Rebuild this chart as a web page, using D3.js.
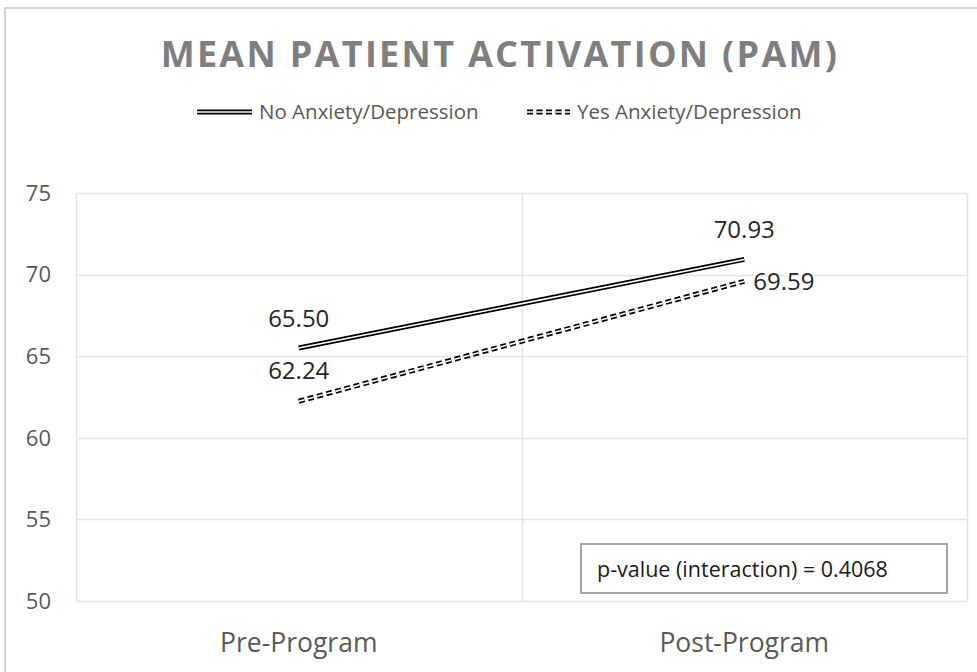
<!DOCTYPE html>
<meta charset="utf-8">
<script src="https://d3js.org/d3.v7.min.js"></script>
<style>
  body { margin: 0; background: #fff; }
  text { font-family: "Open Sans", sans-serif; }
</style>
<body>
<div id="chart"></div>
<script>

    var categories = ["Pre-Program", "Post-Program"];
    var seriesNames = ["No Anxiety/Depression", "Yes Anxiety/Depression"];
    var noAnxiety = [65.50, 70.93];
    var yesAnxiety = [62.24, 69.59];
    var yTicks = [50, 55, 60, 65, 70, 75];
    var pValueText = "p-value (interaction) = 0.4068";

    var W = 977, H = 672;
    var margin = {top: 193, right: 10, bottom: 71, left: 76};

    var svg = d3.select("#chart")
      .append("svg")
        .attr("width", W)
        .attr("height", H);

    // outer chart frame
    svg.append("rect")
        .attr("x", 5).attr("y", 8)
        .attr("width", W + 10).attr("height", H + 10)
        .attr("fill", "none")
        .attr("stroke", "#d4d4d4")
        .attr("stroke-width", 2);

    var x = d3.scaleBand()
        .domain(categories)
        .range([margin.left, W - margin.right])
        .padding(0);

    var y = d3.scaleLinear()
        .domain([50, 75])
        .range([H - margin.bottom, margin.top]);

    var cx = function(c) { return x(c) + x.bandwidth() / 2; };

    // horizontal gridlines
    svg.append("g")
      .selectAll("line")
      .data(yTicks)
      .enter()
      .append("line")
        .attr("x1", margin.left).attr("x2", x.range()[1])
        .attr("y1", function(d) { return Math.round(y(d)) + 0.5; })
        .attr("y2", function(d) { return Math.round(y(d)) + 0.5; })
        .attr("stroke", "#e3e3e3")
        .attr("stroke-width", 1.5);

    // vertical category gridlines
    var vx = categories.map(function(c) { return x(c); }).concat([x.range()[1]]);
    svg.append("g")
      .selectAll("line")
      .data(vx)
      .enter()
      .append("line")
        .attr("x1", function(d) { return Math.round(d) + 0.5; })
        .attr("x2", function(d) { return Math.round(d) + 0.5; })
        .attr("y1", y(75)).attr("y2", y(50))
        .attr("stroke", "#e3e3e3")
        .attr("stroke-width", 1.5);

    // y axis labels
    svg.append("g")
      .selectAll("text")
      .data(yTicks)
      .enter()
      .append("text")
        .attr("x", 51)
        .attr("y", function(d) { return y(d); })
        .attr("dy", "0.35em")
        .attr("text-anchor", "end")
        .attr("font-size", "22px")
        .attr("fill", "#595959")
        .text(function(d) { return d; });

    // x axis labels
    svg.append("g")
      .selectAll("text")
      .data(categories)
      .enter()
      .append("text")
        .attr("x", cx)
        .attr("y", 652)
        .attr("text-anchor", "middle")
        .attr("font-size", "26.5px")
        .attr("fill", "#595959")
        .text(function(d) { return d; });

    // title
    svg.append("text")
        .attr("x", 500)
        .attr("y", 67)
        .attr("text-anchor", "middle")
        .attr("font-size", "36px")
        .attr("font-weight", "bold")
        .attr("letter-spacing", "2.3px")
        .attr("fill", "#7f7f7f")
        .text("MEAN PATIENT ACTIVATION (PAM)");

    // double line helper: black wide stroke with a white core
    function doubleLine(g, pts, dash) {
      var line = d3.line();
      g.append("path")
          .attr("d", line(pts))
          .attr("fill", "none")
          .attr("stroke", "#000")
          .attr("stroke-width", 5)
          .attr("stroke-dasharray", dash);
      g.append("path")
          .attr("d", line(pts))
          .attr("fill", "none")
          .attr("stroke", "#fff")
          .attr("stroke-width", 1.6)
          .attr("stroke-dasharray", dash);
    }

    var dashes = [null, "6,3.5"];
    var series = [noAnxiety, yesAnxiety];

    series.forEach(function(vals, i) {
      var pts = vals.map(function(v, j) { return [cx(categories[j]), y(v)]; });
      doubleLine(svg.append("g"), pts, dashes[i]);
    });

    // data labels
    var labels = svg.append("g")
        .attr("font-size", "24px")
        .attr("fill", "#262626");
    // No anxiety: above both points
    noAnxiety.forEach(function(v, j) {
      labels.append("text")
          .attr("x", cx(categories[j]))
          .attr("y", y(v) - 21)
          .attr("text-anchor", "middle")
          .text(v.toFixed(2));
    });
    // Yes anxiety: above first, right of last
    labels.append("text")
        .attr("x", cx(categories[0]))
        .attr("y", y(yesAnxiety[0]) - 22)
        .attr("text-anchor", "middle")
        .text(yesAnxiety[0].toFixed(2));
    labels.append("text")
        .attr("x", cx(categories[1]) + 9)
        .attr("y", y(yesAnxiety[1]))
        .attr("dy", "0.35em")
        .attr("text-anchor", "start")
        .text(yesAnxiety[1].toFixed(2));

    // legend
    var legendX = [197, 527];
    var legendLen = [55, 43];
    var legend = svg.append("g");
    seriesNames.forEach(function(name, i) {
      var g = legend.append("g");
      doubleLine(g, [[legendX[i], 112], [legendX[i] + legendLen[i], 112]], dashes[i]);
      g.append("text")
          .attr("x", legendX[i] + legendLen[i] + 7)
          .attr("y", 112)
          .attr("dy", "0.35em")
          .attr("font-size", "20.5px")
          .attr("fill", "#595959")
          .text(name);
    });

    // p-value box
    svg.append("rect")
        .attr("x", 581).attr("y", 544)
        .attr("width", 366).attr("height", 49)
        .attr("fill", "#fff")
        .attr("stroke", "#a6a6a6")
        .attr("stroke-width", 2);
    svg.append("text")
        .attr("x", 597)
        .attr("y", 569)
        .attr("dy", "0.35em")
        .attr("font-size", "21.5px")
        .attr("fill", "#1a1a1a")
        .text(pValueText);

</script>
</body>
